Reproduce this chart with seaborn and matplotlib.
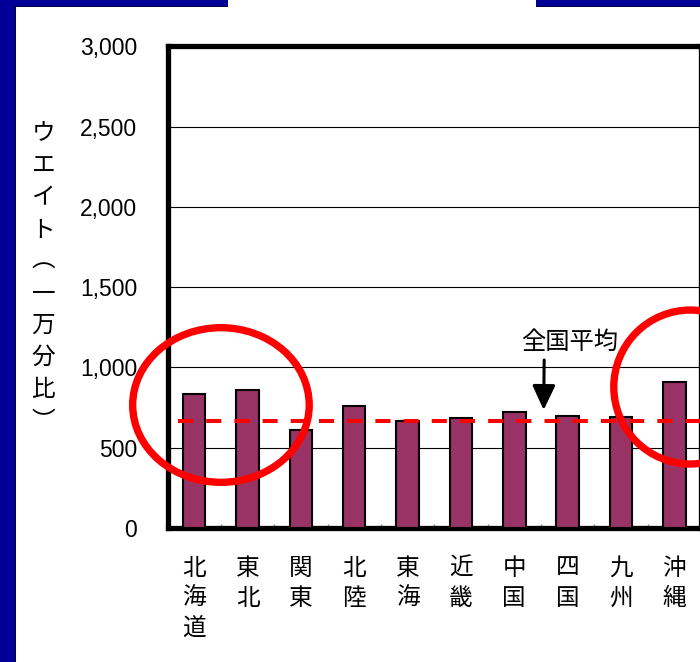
import matplotlib
matplotlib.use("Agg")
import matplotlib.pyplot as plt
from matplotlib.patches import Ellipse, Rectangle
from matplotlib.ticker import FixedLocator
import seaborn as sns
import pandas as pd

# Regional weights (per ten-thousand) and the national average
regions = ["北\n海\n道", "東\n北", "関\n東", "北\n陸", "東\n海",
           "近\n畿", "中\n国", "四\n国", "九\n州", "沖\n縄"]
weights = [835, 860, 610, 762, 664, 688, 723, 700, 689, 911]
national_avg = 665
y_ticks = [0, 500, 1000, 1500, 2000, 2500, 3000]
y_tick_labels = ["0", "500", "1,000", "1,500", "2,000", "2,500", "3,000"]
y_label = "ウ\nエ\nイ\nト\n︵\n一\n万\n分\n比\n︶"
avg_label = "全国平均"

sns.set_theme(style="white")
plt.rcParams["font.family"] = ["Liberation Sans", "Noto Sans CJK JP", "DejaVu Sans"]
for key in ["text.color", "axes.labelcolor", "xtick.color", "ytick.color"]:
    plt.rcParams[key] = "black"

W, H = 700, 662
fig = plt.figure(figsize=(W / 100, H / 100), dpi=100)
fig.patch.set_facecolor("white")

# navy slide frame along the left and top
navy = "#000099"
fig.patches.append(Rectangle((0, 0), 15 / W, 1, transform=fig.transFigure,
                             facecolor=navy, edgecolor="none", zorder=0))
fig.patches.append(Rectangle((15 / W, 0), 1.2 / W, 1 - 6 / H, transform=fig.transFigure,
                             facecolor="#00003a", edgecolor="none", zorder=0))
for x0, x1 in [(15, 228), (536, 700)]:
    fig.patches.append(Rectangle((x0 / W, 1 - 6 / H), (x1 - x0) / W, 6 / H,
                                 transform=fig.transFigure,
                                 facecolor=navy, edgecolor="none", zorder=0))
    fig.patches.append(Rectangle((x0 / W, 1 - 7.2 / H), (x1 - x0) / W, 1.2 / H,
                                 transform=fig.transFigure,
                                 facecolor="#00003a", edgecolor="none", zorder=0))

ax = fig.add_axes([167.6 / W, (H - 528) / H, (701 - 167.6) / W, (528 - 46.3) / H])

df = pd.DataFrame({"region": regions, "weight": weights})
sns.barplot(data=df, x="region", y="weight", color="#993366", saturation=1,
            edgecolor="black", linewidth=1.5, width=0.42, ax=ax, zorder=3)

ax.set_xlim(-0.5, 9.5)
ax.set_ylim(0, 3000)
ax.set_yticks(y_ticks)
ax.set_yticklabels(y_tick_labels, fontsize=16.5, family=["Liberation Sans"],
                   color="black")
ax.yaxis.grid(True, color="black", linewidth=0.8, zorder=0)
ax.set_axisbelow(True)
ax.tick_params(axis="y", length=0, pad=22, labelcolor="black")
ax.tick_params(axis="x", length=0, pad=21, labelcolor="black")
for lbl in ax.get_xticklabels():
    lbl.set_fontsize(17)
    lbl.set_family(["Noto Sans CJK JP"])
    lbl.set_linespacing(1.37)
    lbl.set_color("black")
ax.xaxis.set_minor_locator(FixedLocator([i + 0.5 for i in range(9)]))
ax.tick_params(axis="x", which="minor", direction="in", length=3,
               width=1, color="#888888", bottom=True)
ax.set_xlabel("")
ax.set_ylabel(y_label, rotation=0, fontsize=17, family=["Noto Sans CJK JP"],
              linespacing=1.5, va="center", ha="center", color="black")
ax.yaxis.set_label_coords(-0.233, 0.52)

for side in ["left", "right", "top", "bottom"]:
    ax.spines[side].set_visible(True)
    ax.spines[side].set_color("black")
    ax.spines[side].set_linewidth(3.8)

# national average as a red dashed line
ax.plot([-0.305, 9.5], [national_avg, national_avg], color="red", linewidth=2.9,
        dashes=(3.75, 3.25), zorder=5, clip_on=False)

# highlight rings
ax.add_patch(Ellipse((0.50, 766), 3.31, 963, fill=False, edgecolor="red",
                     linewidth=5.3, zorder=6, clip_on=False))
ax.add_patch(Ellipse((9.30, 878), 2.87, 959, fill=False, edgecolor="red",
                     linewidth=5.3, zorder=6, clip_on=False))

# label and arrow pointing to the average line
ax.text(7.04, 1158, avg_label, fontsize=17.5, family=["Noto Sans CJK JP"],
        ha="center", va="center", color="black", zorder=7)
ax.annotate("", xy=(6.55, 735), xytext=(6.56, 1046),
            arrowprops=dict(arrowstyle="-|>,head_width=0.35,head_length=0.75",
                            color="black", lw=2.2, mutation_scale=20,
                            shrinkA=0, shrinkB=0), zorder=7)

fig.savefig("out.png", dpi=100)
